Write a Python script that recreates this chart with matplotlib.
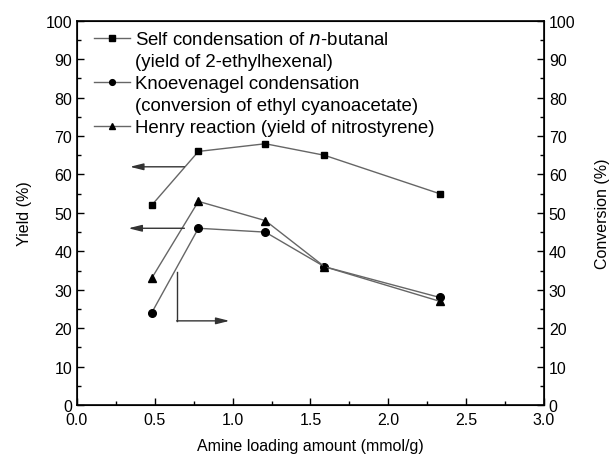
import numpy as np
import matplotlib.pyplot as plt
from matplotlib.lines import Line2D
from matplotlib.ticker import MultipleLocator

plt.rcParams['font.family'] = ['Liberation Sans', 'DejaVu Sans']
plt.rcParams['font.size'] = 11.5

# amine loading (mmol/g)
loading = [0.48, 0.78, 1.21, 1.59, 2.33]

# yields / conversion (%)
self_cond = [52, 66, 68, 65, 55]
knoev = [24, 46, 45, 36, 28]
henry = [33, 53, 48, 36, 27]

labels = [
    "Self condensation of $n$-butanal",
    "(yield of 2-ethylhexenal)",
    "Knoevenagel condensation",
    "(conversion of ethyl cyanoacetate)",
    "Henry reaction (yield of nitrostyrene)",
]

fig = plt.figure(figsize=(6.16, 4.64), dpi=100)
ax = fig.add_axes([0.125, 0.125, 0.758, 0.828])

line_kw = dict(color="#666666", lw=1.0, mfc="black", mec="black")
h1, = ax.plot(loading, self_cond, marker="s", ms=5, **line_kw)
h2, = ax.plot(loading, knoev, marker="o", ms=5.5, **line_kw)
h3, = ax.plot(loading, henry, marker="^", ms=6, **line_kw)

ax.set_xlim(0, 3.0)
ax.set_ylim(0, 100)
ax.xaxis.set_major_locator(MultipleLocator(0.5))
ax.xaxis.set_minor_locator(MultipleLocator(0.25))
ax.yaxis.set_major_locator(MultipleLocator(10))
ax.yaxis.set_minor_locator(MultipleLocator(5))
ax.tick_params(which="both", direction="in", width=1)
ax.tick_params(which="major", length=5)
ax.tick_params(which="minor", length=3)
ax.tick_params(axis="x", pad=5)
ax.set_xlabel("Amine loading amount (mmol/g)", labelpad=8)
ax.set_ylabel("Yield (%)", labelpad=10)
for s in ax.spines.values():
    s.set_linewidth(1.2)

ax2 = ax.twinx()
ax2.set_ylim(0, 100)
ax2.yaxis.set_major_locator(MultipleLocator(10))
ax2.yaxis.set_minor_locator(MultipleLocator(5))
ax2.tick_params(which="both", direction="in", width=1)
ax2.tick_params(which="major", length=5)
ax2.tick_params(which="minor", length=3)
ax2.set_ylabel("Conversion (%)", labelpad=14)

# arrows pointing to the axes
arr = dict(arrowstyle="-|>,head_length=0.8,head_width=0.2", color="#333333",
           lw=1.0, mutation_scale=10, shrinkA=0, shrinkB=0)
ax.annotate("", xy=(0.34, 62), xytext=(0.69, 62), arrowprops=arr)
ax.annotate("", xy=(0.33, 46), xytext=(0.69, 46), arrowprops=arr)
ax.plot([0.64, 0.64], [34.6, 21.9], color="#333333", lw=1.0)
ax.annotate("", xy=(0.98, 21.9), xytext=(0.64, 21.9), arrowprops=arr)

# legend: second lines of labels get blank handles so markers sit on first lines
blank = Line2D([], [], color="none")
leg = ax.legend([h1, blank, h2, blank, h3], labels,
                loc="upper left", bbox_to_anchor=(0.015, 1.0), frameon=False,
                fontsize=13.4, handlelength=1.9, markerscale=0.75,
                borderaxespad=0, borderpad=0.55, labelspacing=0.27,
                handletextpad=0.3)

fig.savefig("out.png", dpi=100)
